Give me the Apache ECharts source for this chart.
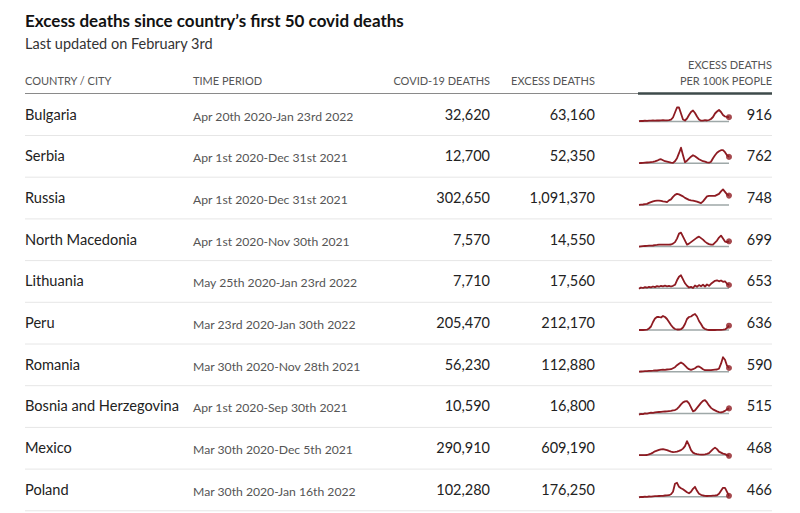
<!DOCTYPE html>
<html>
<head>
<meta charset="utf-8">
<script src="https://cdn.jsdelivr.net/npm/echarts@6/dist/echarts.min.js"></script>
<style>
html,body{margin:0;padding:0;background:#fff;}
#c{width:800px;height:513px;}
</style>
</head>
<body>
<div id="c"></div>
<script>
// ---------- DATA ----------
const countries = ['Bulgaria','Serbia','Russia','North Macedonia','Lithuania','Peru','Romania','Bosnia and Herzegovina','Mexico','Poland'];
const periods = ['Apr 20th 2020-Jan 23rd 2022','Apr 1st 2020-Dec 31st 2021','Apr 1st 2020-Dec 31st 2021','Apr 1st 2020-Nov 30th 2021','May 25th 2020-Jan 23rd 2022','Mar 23rd 2020-Jan 30th 2022','Mar 30th 2020-Nov 28th 2021','Apr 1st 2020-Sep 30th 2021','Mar 30th 2020-Dec 5th 2021','Mar 30th 2020-Jan 16th 2022'];
const covidDeaths = [32620, 12700, 302650, 7570, 7710, 205470, 56230, 10590, 290910, 102280];
const excessDeaths = [63160, 52350, 1091370, 14550, 17560, 212170, 112880, 16800, 609190, 176250];
const excessPer100k = [916, 762, 748, 699, 653, 636, 590, 515, 468, 466];
const headers = ['COUNTRY / CITY','TIME PERIOD','COVID-19 DEATHS','EXCESS DEATHS','EXCESS DEATHS','PER 100K PEOPLE'];
const titleText = 'Excess deaths since country\u2019s first 50 covid deaths';
const subtitleText = 'Last updated on February 3rd';

// weekly excess-death trend (relative scale)
const trendBulgaria = [0.3,0.6,0.5,0.8,0.7,0.9,0.8,1.0,0.9,1.2,1.0,1.1,1.3,1.1,1.2,1.3,1.8,4,9,14,14,8,2,1,3,6.5,9.5,11,8.5,5,2,0.8,0.8,1.3,1.0,1.5,2.5,4.5,8,10,11.5,9.5,6.5,5,4.5,4.3];
const trendSerbia = [0,0.2,0.3,0.5,0.7,0.9,1.1,1.3,1.8,2.5,3.5,4,3,2,1.5,1,0.5,0.3,2,5,10,15.5,8,1,2.5,4.5,6.5,8,7,5.5,4,3,2,1.5,0.8,0.5,1.5,5,8,10.5,12,13,13,11,8,6.3];
const trendRussia = [0,0.2,0.4,0.7,1,2,2.8,3.5,4,4.2,4.3,4,3.5,3.2,2.8,4.5,5.5,8,10,11,10.5,9.5,8.5,7,6,5,4.5,4.2,3.8,3.3,2.5,1.7,3.5,6,8.5,9,9,9,9,10,11,13.5,15.5,13,10.5,9.3];
const trendNorthMacedonia = [0,0.2,0.4,0.6,0.8,0.9,1.0,1.1,1.5,1.7,2.0,1.9,2.0,2.0,2.0,2.0,2.1,3,4.5,8,13,14,10,6,2,3,4.5,6,7.5,9,10,8.5,7,5,3.5,2.5,2,2,4,6,9,11,8,5,4.5,5.3];
const trendLithuania = [-0.5,0.8,0.3,1.2,0.6,1.5,1.0,1.8,1.2,2.2,1.6,2.5,1.9,2.6,2.0,2.4,1.8,2.5,3.5,8,11.5,13,9,5,2.5,0.8,1.5,0.3,2.8,1.5,3.2,2,3.5,1.8,3.8,2.5,4.5,6,7.5,8,7,7.8,6.5,7,4.5,3.3];
const trendPeru = [0,0,0,0.2,0.3,1.5,3.5,8,11.5,13,13,12.5,14,13,11,8,5,2.5,1,0.5,0.5,0.8,2.5,6,11,13,13.5,15,16,13.5,9,6,2.5,1,0.3,0,0,0,0,0.1,0.1,0.2,0.3,0.6,2,4.3];
const trendRomania = [0,0.2,0.3,0.5,0.6,0.8,0.9,1.0,1.3,1.2,1.6,1.8,2.0,1.8,2.2,2.4,2.5,3.5,4.5,6.5,8,9.3,8,6,4,2.5,1.8,2.5,3.5,5,5.3,4,2.5,1.5,1.5,1.6,1.5,1.8,2,2.2,3,8,14.5,12,6,3.7];
const trendBosnia = [-1.2,-0.5,-0.8,0,-0.2,0.3,0.8,0.6,1.0,1.2,1.4,1.5,1.7,1.9,2.1,2.3,2.5,3,3.3,4.5,6.5,9,11,12,12.3,10,6,2,3,5.5,8,10.5,12.5,13.3,11,8,5.5,4,3,2,1.3,1,1.5,2.5,4,5];
const trendMexico = [0,0,0,0,0.1,0.8,1.5,2.5,3.8,4.5,5.2,5.8,6,5.5,5,4.2,3.5,3,3.2,3.5,4.2,5,6.5,9,14,10,5,2.5,1.5,1,0.7,0.5,0.5,0.8,1.2,2,4,6,7.5,6,3.5,2.5,1.5,1,0,-0.7];
const trendPoland = [-0.5,0,-0.2,0.2,0,0.3,0.2,0.5,0.6,0.7,0.8,0.9,1,1.3,1.4,1.6,2.5,5,13,14,10,8.5,7.5,6,4.5,3.5,5,8,10,6,3,2,1.3,1,0.8,0.9,1,1.2,1.3,1.5,3,6,9,9,5,1];
const trends = [trendBulgaria,trendSerbia,trendRussia,trendNorthMacedonia,trendLithuania,trendPeru,trendRomania,trendBosnia,trendMexico,trendPoland];

// ---------- LAYOUT / STYLE ----------
const FONT = 'Lato, "Open Sans", sans-serif';
const rowTop = 114, rowStep = 41.7;
const colCountry = 25, colPeriod = 193, colCovid = 490, colExcess = 595, colPer = 772;
const sparkLeft = 639, sparkWidth = 90;
const RED = '#8e1b22';

const chart = echarts.init(document.getElementById('c'), null, {renderer: 'svg'});
const fmt = v => v.toLocaleString('en-US');

const graphic = [];
function txt(x, y, text, size, color, align, weight) {
  graphic.push({type: 'text', x: x, y: y, silent: true,
    style: {text: text, font: (weight || 'normal') + ' ' + size + 'px ' + FONT, fill: color,
      textAlign: align || 'left', textVerticalAlign: 'middle'}});
}
function hline(x1, x2, y, color, w) {
  graphic.push({type: 'line', silent: true, shape: {x1: x1, y1: y, x2: x2, y2: y},
    style: {stroke: color, lineWidth: w}});
}

txt(25, 20, titleText, 17, '#121212', 'left', 'bold');
txt(25, 43, subtitleText, 14.5, '#333', 'left');
txt(colCountry, 80, headers[0], 11, '#555', 'left');
txt(colPeriod, 80, headers[1], 11, '#555', 'left');
txt(colCovid, 80, headers[2], 11, '#555', 'right');
txt(colExcess, 80, headers[3], 11, '#555', 'right');
txt(colPer, 64, headers[4], 11, '#555', 'right');
txt(colPer, 80, headers[5], 11, '#555', 'right');
hline(25, 638, 93.5, '#8a8a8a', 1);
hline(638, 772, 93.5, '#3e4a4a', 2.5);

const grids = [], xAxes = [], yAxes = [], series = [];
countries.forEach((name, i) => {
  const c = rowTop + rowStep * i;
  txt(colCountry, c, name, 14.6, '#222', 'left');
  txt(colPeriod, c + 2, periods[i], 12.2, '#555', 'left');
  txt(colCovid, c, fmt(covidDeaths[i]), 14.5, '#222', 'right');
  txt(colExcess, c, fmt(excessDeaths[i]), 14.5, '#222', 'right');
  txt(colPer, c, fmt(excessPer100k[i]), 14.5, '#222', 'right');
  hline(25, 772, c + 21.5, '#e6e6e6', 1);

  const t = trends[i];
  grids.push({left: sparkLeft, top: c - 8.5, width: sparkWidth, height: 18});
  xAxes.push({gridIndex: i, type: 'category', show: false, boundaryGap: false, data: t.map((_, k) => k)});
  yAxes.push({gridIndex: i, type: 'value', show: false, min: -2, max: 16});
  series.push({type: 'line', xAxisIndex: i, yAxisIndex: i, data: t.map(() => 0), symbol: 'none', silent: true, z: 1,
    lineStyle: {color: '#9ea8a8', width: 1.5}});
  series.push({type: 'line', xAxisIndex: i, yAxisIndex: i, data: t, symbol: 'none', silent: true, z: 3,
    lineStyle: {color: RED, width: 1.8, join: 'round'}});
  series.push({type: 'scatter', xAxisIndex: i, yAxisIndex: i, data: [[t.length - 1, t[t.length - 1]]], symbolSize: 6, silent: true, z: 4,
    itemStyle: {color: RED}});
});

chart.setOption({
  animation: false,
  backgroundColor: '#fff',
  grid: grids,
  xAxis: xAxes,
  yAxis: yAxes,
  series: series,
  graphic: graphic
});
</script>
</body>
</html>
